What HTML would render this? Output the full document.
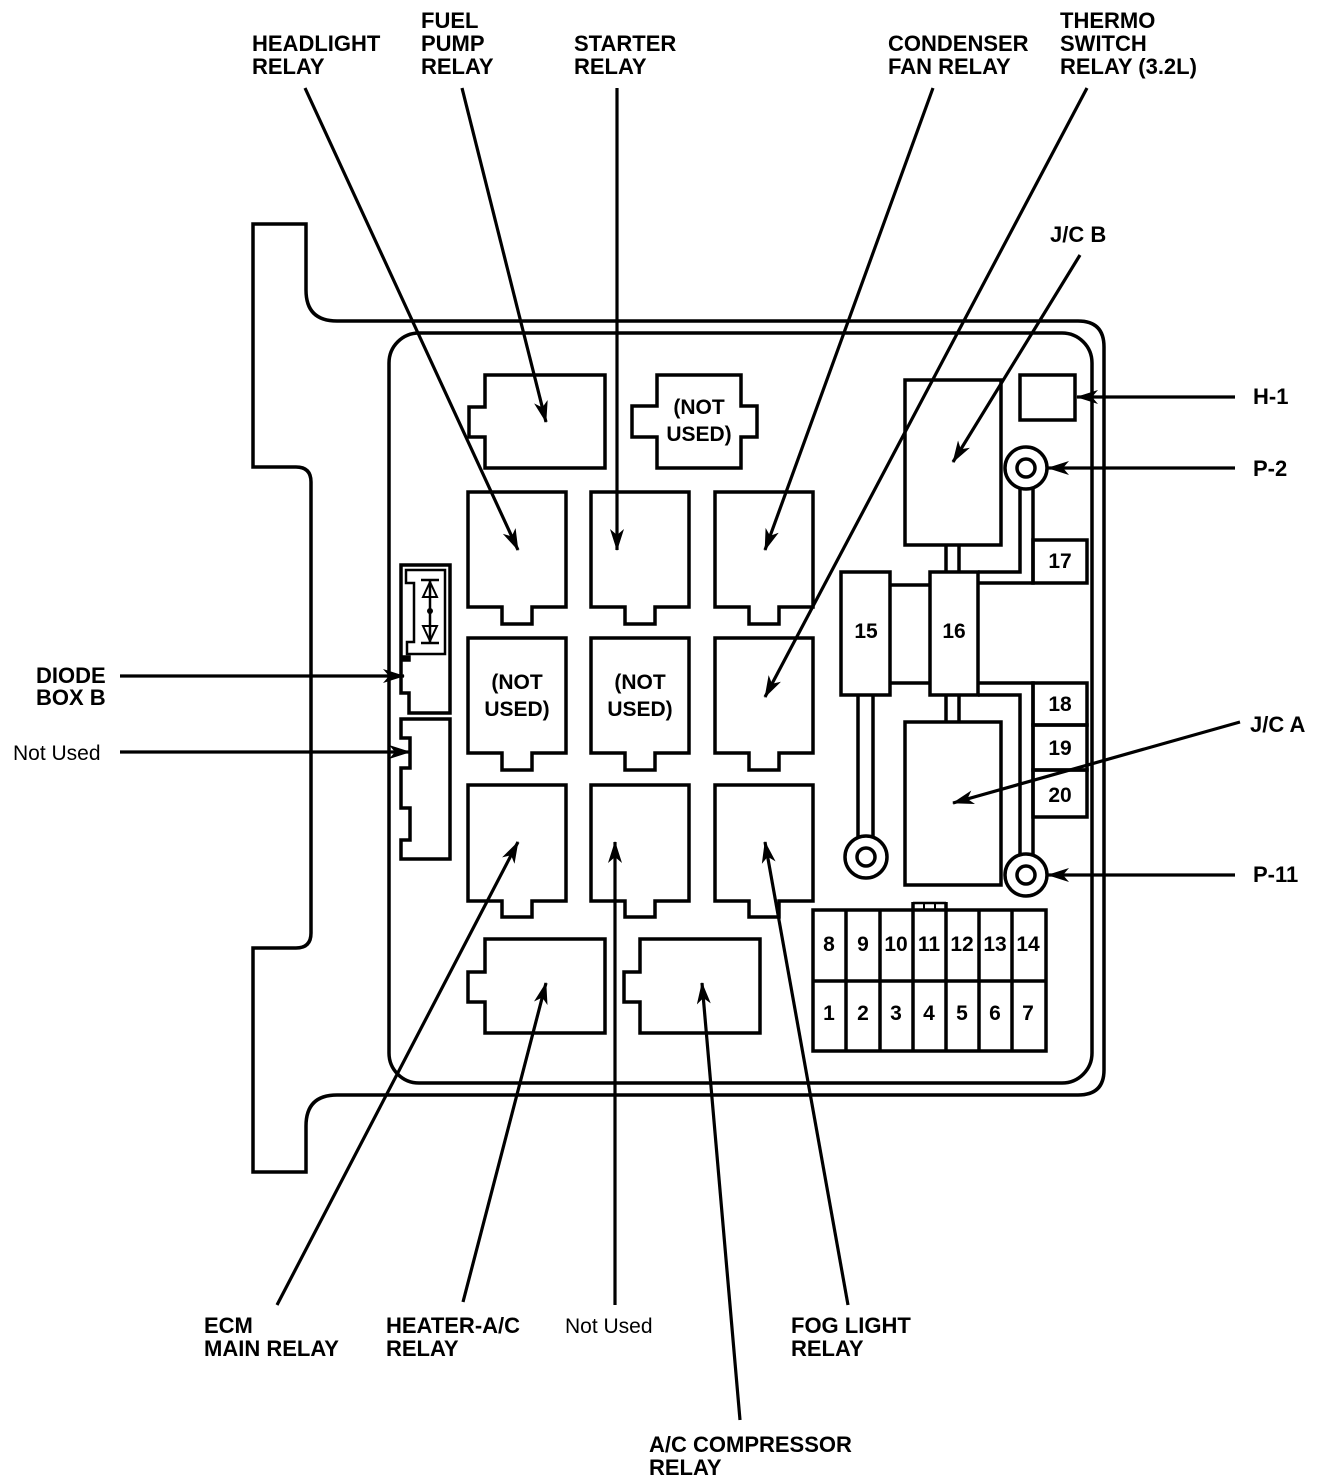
<!DOCTYPE html>
<html><head><meta charset="utf-8"><style>
html,body{margin:0;padding:0;background:#fff}
svg{display:block}
text{font-family:"Liberation Sans",Arial,sans-serif;font-weight:bold;font-size:22px;fill:#000}
.n{font-weight:normal;font-size:21px}
.f{font-size:21px}
</style></head><body>
<svg width="1328" height="1484" viewBox="0 0 1328 1484" xmlns="http://www.w3.org/2000/svg">
<defs>
<marker id="a" markerWidth="22" markerHeight="14" refX="21" refY="7" orient="auto" markerUnits="userSpaceOnUse">
<path d="M0,0 L22,7 L0,14 L6,7 Z" fill="#000"/>
</marker>
</defs>
<g fill="none" stroke="#000" stroke-width="3.5" stroke-linejoin="miter">
<path d="M253,224 H306 V290 Q306,321 337,321 H1078 Q1104,321 1104,347 V1070 Q1104,1095 1078,1095 H337 Q306,1095 306,1126 V1172 H253 V948 H296 Q311,948 311,933 V482 Q311,467 296,467 H253 Z"/>
<rect x="389" y="333" width="703" height="750" rx="30"/>
<path d="M485,375 H605 V468 H485 V437 H469 V407 H485 Z"/>
<path d="M657,375 H741 V406 H757 V437 H741 V468 H657 V437 H632 V406 H657 Z"/>
<path d="M485,939 H605 V1033 H485 V1002 H468 V972 H485 Z"/>
<path d="M640,939 H760 V1033 H640 V1002 H624 V972 H640 Z"/>
<path d="M468,492 H566 V607 H532 V624 H502 V607 H468 Z"/>
<path d="M591,492 H689 V607 H655 V624 H625 V607 H591 Z"/>
<path d="M715,492 H813 V607 H779 V624 H749 V607 H715 Z"/>
<path d="M468,638 H566 V753 H532 V770 H502 V753 H468 Z"/>
<path d="M591,638 H689 V753 H655 V770 H625 V753 H591 Z"/>
<path d="M715,638 H813 V753 H779 V770 H749 V753 H715 Z"/>
<path d="M468,785 H566 V901 H532 V917 H502 V901 H468 Z"/>
<path d="M591,785 H689 V901 H655 V917 H625 V901 H591 Z"/>
<path d="M715,785 H813 V901 H779 V917 H749 V901 H715 Z"/>
<path d="M401,565 H450 V713 H409 V693 H401 V660 H409 V657 H401 Z"/>
<path d="M406,570 H445 V654 H407 V642 H414 V583 H406 Z" stroke-width="2.5"/>
<line x1="430" y1="580" x2="430" y2="643" stroke-width="2.5"/>
<line x1="421" y1="580" x2="439" y2="580" stroke-width="2.5"/>
<line x1="421" y1="643" x2="439" y2="643" stroke-width="2.5"/>
<path d="M430,582 L423,597 H437 Z" stroke-width="2"/>
<path d="M430,641 L423,626 H437 Z" stroke-width="2"/>
<circle cx="430" cy="611" r="3" fill="#000" stroke="none"/>
<path d="M401,719 H450 V859 H401 V840 H410 V808 H401 V768 H410 V738 H401 Z"/>
<rect x="905" y="380" width="96" height="165"/>
<rect x="905" y="722" width="96" height="163"/>
<rect x="1020" y="375" width="55" height="45"/>
<rect x="841" y="572" width="49" height="123"/>
<rect x="930" y="572" width="48" height="123"/>
<line x1="890" y1="585" x2="930" y2="585"/>
<line x1="890" y1="683" x2="930" y2="683"/>
<line x1="946" y1="545" x2="946" y2="572"/>
<line x1="959" y1="545" x2="959" y2="572"/>
<line x1="946" y1="695" x2="946" y2="722"/>
<line x1="959" y1="695" x2="959" y2="722"/>
<line x1="858" y1="695" x2="858" y2="838"/>
<line x1="873" y1="695" x2="873" y2="838"/>
<path d="M978,572 H1020 V489"/>
<path d="M978,583 H1033 V489"/>
<path d="M978,683 H1033 V855"/>
<path d="M978,695 H1020 V855"/>
<rect x="1033" y="540" width="54" height="43"/>
<rect x="1033" y="683" width="54" height="42"/>
<rect x="1033" y="725" width="54" height="45"/>
<rect x="1033" y="770" width="54" height="47"/>
<circle cx="1026" cy="468" r="21" fill="#fff"/>
<circle cx="1026" cy="468" r="9"/>
<circle cx="1026" cy="875" r="21" fill="#fff"/>
<circle cx="1026" cy="875" r="9"/>
<circle cx="866" cy="857" r="21" fill="#fff"/>
<circle cx="866" cy="857" r="9"/>
<rect x="813" y="910" width="233" height="141"/>
<line x1="813" y1="981" x2="1046" y2="981"/>
<line x1="846" y1="910" x2="846" y2="1051"/>
<line x1="880" y1="910" x2="880" y2="1051"/>
<line x1="913" y1="902" x2="913" y2="1051"/>
<line x1="946" y1="902" x2="946" y2="1051"/>
<line x1="979" y1="910" x2="979" y2="1051"/>
<line x1="1012" y1="910" x2="1012" y2="1051"/>
<path d="M913,903 H946" stroke-width="2.5"/>
<line x1="924" y1="903" x2="924" y2="910" stroke-width="2"/>
<line x1="935" y1="903" x2="935" y2="910" stroke-width="2"/>
</g>
<g stroke="#000" stroke-width="3.2" fill="none" marker-end="url(#a)">
<line x1="305" y1="88" x2="518" y2="550"/>
<line x1="462" y1="88" x2="546" y2="422"/>
<line x1="617" y1="88" x2="617" y2="550"/>
<line x1="933" y1="88" x2="765" y2="550"/>
<line x1="1087" y1="88" x2="765" y2="697"/>
<line x1="1080" y1="255" x2="953" y2="462"/>
<line x1="1235" y1="397" x2="1077" y2="397"/>
<line x1="1235" y1="468" x2="1048" y2="468"/>
<line x1="1240" y1="722" x2="953" y2="803"/>
<line x1="1235" y1="875" x2="1048" y2="875"/>
<line x1="120" y1="676" x2="404" y2="676"/>
<line x1="120" y1="752" x2="410" y2="752"/>
<line x1="277" y1="1305" x2="518" y2="842"/>
<line x1="463" y1="1302" x2="546" y2="983"/>
<line x1="615" y1="1305" x2="615" y2="842"/>
<line x1="848" y1="1305" x2="765" y2="842"/>
<line x1="740" y1="1420" x2="702" y2="983"/>
</g>
<text x="252" y="51">HEADLIGHT</text><text x="252" y="74">RELAY</text>
<text x="421" y="28">FUEL</text><text x="421" y="51">PUMP</text><text x="421" y="74">RELAY</text>
<text x="574" y="51">STARTER</text><text x="574" y="74">RELAY</text>
<text x="888" y="51">CONDENSER</text><text x="888" y="74">FAN RELAY</text>
<text x="1060" y="28">THERMO</text><text x="1060" y="51">SWITCH</text><text x="1060" y="74">RELAY (3.2L)</text>
<text x="1050" y="242">J/C B</text>
<text x="1253" y="404">H-1</text>
<text x="1253" y="476">P-2</text>
<text x="1250" y="732">J/C A</text>
<text x="1253" y="882">P-11</text>
<text x="36" y="683">DIODE</text><text x="36" y="705">BOX B</text>
<text class="n" x="13" y="760">Not Used</text>
<text x="204" y="1333">ECM</text><text x="204" y="1356">MAIN RELAY</text>
<text x="386" y="1333">HEATER-A/C</text><text x="386" y="1356">RELAY</text>
<text class="n" x="565" y="1333">Not Used</text>
<text x="791" y="1333">FOG LIGHT</text><text x="791" y="1356">RELAY</text>
<text x="649" y="1452">A/C COMPRESSOR</text><text x="649" y="1475">RELAY</text>
<text x="699" y="414" text-anchor="middle" class="f">(NOT</text><text x="699" y="441" text-anchor="middle" class="f">USED)</text>
<text x="517" y="689" text-anchor="middle" class="f">(NOT</text><text x="517" y="716" text-anchor="middle" class="f">USED)</text>
<text x="640" y="689" text-anchor="middle" class="f">(NOT</text><text x="640" y="716" text-anchor="middle" class="f">USED)</text>
<text x="866" y="638" text-anchor="middle" class="f">15</text>
<text x="954" y="638" text-anchor="middle" class="f">16</text>
<text x="1060" y="568" text-anchor="middle" class="f">17</text>
<text x="1060" y="711" text-anchor="middle" class="f">18</text>
<text x="1060" y="755" text-anchor="middle" class="f">19</text>
<text x="1060" y="802" text-anchor="middle" class="f">20</text>
<g text-anchor="middle">
<text x="829" y="951" class="f">8</text><text x="863" y="951" class="f">9</text><text x="896" y="951" class="f">10</text><text x="929" y="951" class="f">11</text><text x="962" y="951" class="f">12</text><text x="995" y="951" class="f">13</text><text x="1028" y="951" class="f">14</text>
<text x="829" y="1020" class="f">1</text><text x="863" y="1020" class="f">2</text><text x="896" y="1020" class="f">3</text><text x="929" y="1020" class="f">4</text><text x="962" y="1020" class="f">5</text><text x="995" y="1020" class="f">6</text><text x="1028" y="1020" class="f">7</text>
</g>
</svg>
</body></html>
